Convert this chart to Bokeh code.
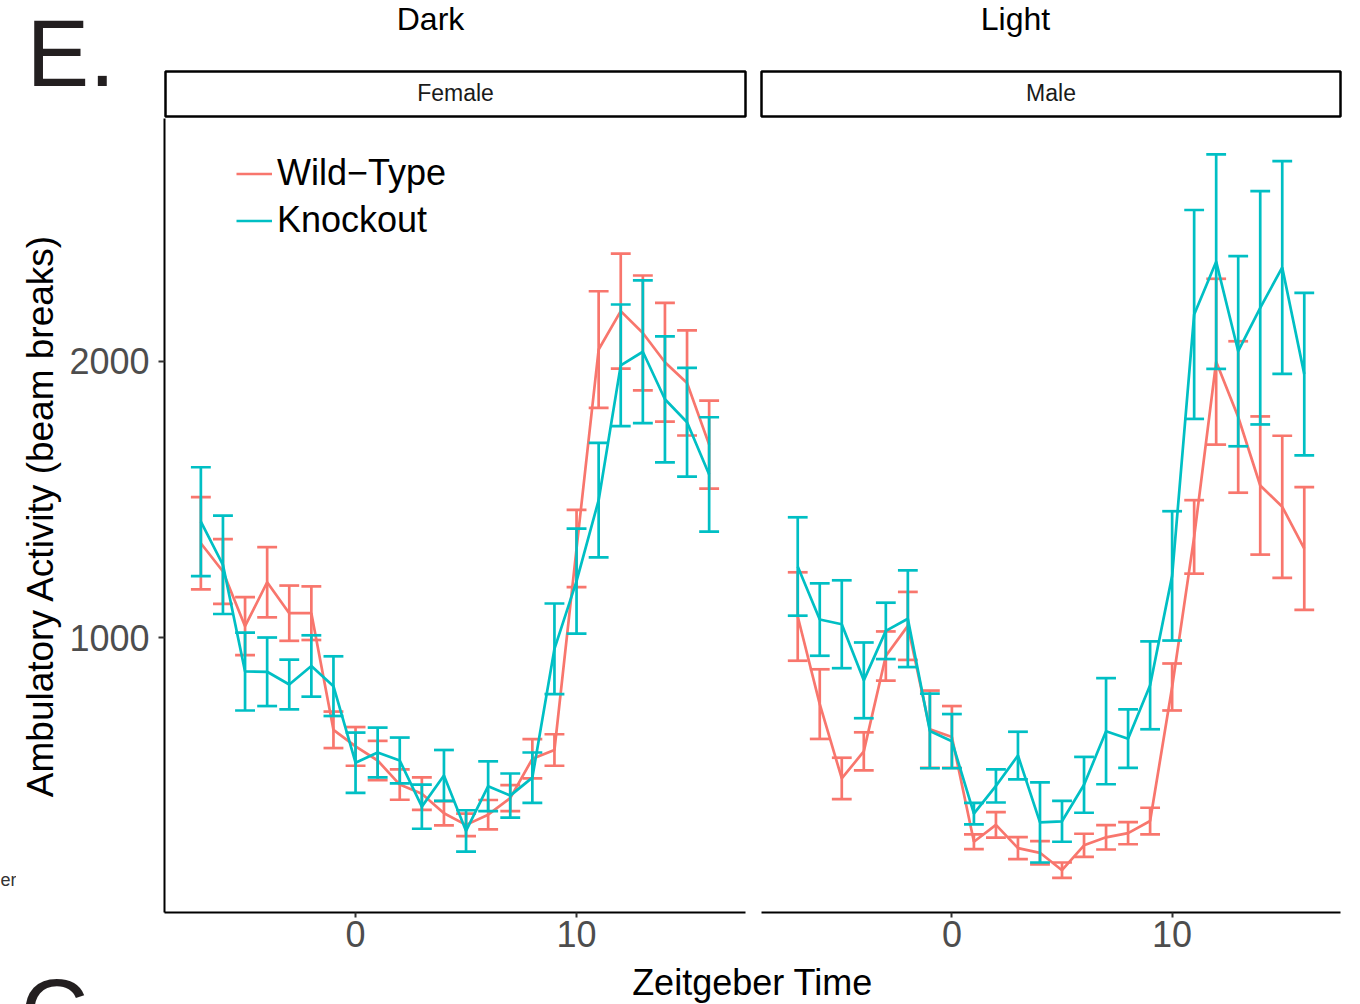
from bokeh.plotting import figure
from bokeh.models import Range1d, FixedTicker, Legend, LegendItem
from bokeh.layouts import column, row
from bokeh.embed import file_html
from bokeh.resources import INLINE
from bokeh.core.properties import value

FONT = "Liberation Sans"
RED = "#F8766D"
TEAL = "#00BFC4"

# ---------------- data ----------------
hours = list(range(-7, 17))

female_wt = [1341, 1239, 1041, 1200, 1088, 1088, 666, 606, 555, 468, 435, 364,
             322, 359, 419, 561, 593, 1322, 2042, 2181, 2102, 1996, 1921, 1698]
female_wt_se = [167, 117, 105, 127, 100, 97, 66, 70, 71, 55, 59, 44,
                41, 53, 47, 71, 57, 140, 211, 208, 208, 215, 190, 159]
female_ko = [1419, 1263, 877, 876, 830, 897, 824, 547, 584, 555, 388, 501,
             300, 462, 428, 493, 959, 1204, 1497, 1985, 2034, 1862, 1779, 1590]
female_ko_se = [197, 178, 141, 124, 90, 111, 108, 109, 90, 83, 80, 92,
                75, 90, 80, 91, 164, 190, 207, 220, 258, 228, 197, 207]

male_wt = [1076, 759, 490, 588, 933, 1042, 668, 640, 261, 322, 238, 221,
           158, 248, 277, 292, 336, 821, 1364, 1998, 1798, 1550, 1473, 1322]
male_wt_se = [160, 126, 75, 69, 89, 123, 140, 112, 27, 46, 40, 42,
              28, 42, 44, 40, 48, 85, 133, 300, 274, 250, 257, 222]
male_ko = [1257, 1065, 1048, 845, 1024, 1068, 662, 625, 363, 463, 573, 331,
           335, 467, 661, 634, 827, 1223, 2169, 2360, 2036, 2193, 2339, 1953]
male_ko_se = [178, 131, 159, 137, 102, 175, 135, 98, 39, 60, 86, 145,
              74, 101, 192, 106, 159, 234, 378, 388, 344, 422, 385, 294]

x_ticks = [0, 10]
y_ticks = [1000, 2000]
panel_labels = ["Female", "Male"]
top_labels = ["Dark", "Light"]
series_labels = ["Wild\u2212Type", "Knockout"]

X_RANGE = (-8.645, 17.645)
Y_RANGE = (5, 2878)
CAP = 0.45
LW = 2.7


def blank(width, height):
    p = figure(width=width, height=height, x_range=Range1d(0, width),
               y_range=Range1d(height, 0), output_backend="svg",
               toolbar_location=None, x_axis_type=None, y_axis_type=None,
               min_border_left=0, min_border_right=0, min_border_top=0,
               min_border_bottom=0)
    p.grid.visible = False
    p.outline_line_color = None
    p.background_fill_color = "white"
    p.border_fill_color = "white"
    return p


def txt(p, x, y, s, size, color="black", align="center"):
    p.text(x=[x], y=[y], text=[s], text_font=value(FONT), text_font_size=size,
           text_align=align, text_baseline="middle", text_color=color)


def header(width, strip_l, strip_r, strip_text, top_text, top_x, big_letter):
    p = blank(width, 118)
    p.quad(left=[strip_l], right=[strip_r], top=[71], bottom=[116],
           fill_color="white", line_color="black", line_width=2.5)
    txt(p, (strip_l + strip_r) / 2, 92, strip_text, "23px", "#1A1A1A")
    txt(p, top_x, 18, top_text, "32px")
    if big_letter:
        txt(p, 26, 53, "E.", "94px", "#231F20", "left")
    return p


def add_series(p, y, se, color):
    lo = [m - s for m, s in zip(y, se)]
    hi = [m + s for m, s in zip(y, se)]
    xl = [h - CAP for h in hours]
    xr = [h + CAP for h in hours]
    r = p.line(hours, y, line_color=color, line_width=LW)
    p.segment(x0=hours, y0=lo, x1=hours, y1=hi, line_color=color, line_width=LW)
    p.segment(x0=xl, y0=hi, x1=xr, y1=hi, line_color=color, line_width=LW)
    p.segment(x0=xl, y0=lo, x1=xr, y1=lo, line_color=color, line_width=LW)
    return r


def panel(width, left_border, right_border, wt, wt_se, ko, ko_se, show_y):
    p = figure(width=width, height=843, x_range=Range1d(*X_RANGE),
               y_range=Range1d(*Y_RANGE), output_backend="svg",
               toolbar_location=None, y_axis_type="linear" if show_y else None,
               min_border_left=left_border, min_border_right=right_border,
               min_border_top=0, min_border_bottom=49)
    p.grid.visible = False
    p.outline_line_color = None
    p.background_fill_color = "white"
    p.border_fill_color = "white"

    ax = p.xaxis[0]
    ax.ticker = FixedTicker(ticks=x_ticks)
    ax.major_label_text_font = FONT
    ax.major_label_text_font_size = "36px"
    ax.major_label_text_color = "#4D4D4D"
    ax.major_label_standoff = 3
    ax.axis_line_width = 2
    ax.axis_line_color = "black"
    ax.major_tick_out = 5
    ax.major_tick_in = 0
    ax.major_tick_line_width = 2
    ax.major_tick_line_color = "#333333"
    ax.minor_tick_line_color = None

    if show_y:
        ay = p.yaxis[0]
        ay.ticker = FixedTicker(ticks=y_ticks)
        ay.major_label_text_font = FONT
        ay.major_label_text_font_size = "36px"
        ay.major_label_text_color = "#4D4D4D"
        ay.major_label_standoff = 9
        ay.axis_line_width = 2
        ay.axis_line_color = "black"
        ay.major_tick_out = 6
        ay.major_tick_in = 0
        ay.major_tick_line_width = 2
        ay.major_tick_line_color = "#333333"
        ay.minor_tick_line_color = None
        ay.axis_label = "Ambulatory Activity (beam breaks)"
        ay.axis_label_text_font = FONT
        ay.axis_label_text_font_size = "37px"
        ay.axis_label_text_font_style = "normal"
        ay.axis_label_text_color = "black"
        ay.axis_label_standoff = 5

    r_wt = add_series(p, wt, wt_se, RED)
    r_ko = add_series(p, ko, ko_se, TEAL)
    return p, r_wt, r_ko


headL = header(753, 165, 745, panel_labels[0], top_labels[0], 430, True)
headR = header(607, 8, 587, panel_labels[1], top_labels[1], 262, False)

# narrow side strip (its frame is aligned with the panels' frames)
side = blank(16, 843)
txt(side, 0, 809, "er", "18px", "#333333", "left")

pL, rw, rk = panel(737, 148, 8, female_wt, female_wt_se, female_ko, female_ko_se, True)
pR, _, _ = panel(607, 8, 20, male_wt, male_wt_se, male_ko, male_ko_se, False)

legend = Legend(items=[LegendItem(label=series_labels[0], renderers=[rw]),
                       LegendItem(label=series_labels[1], renderers=[rk])],
                location=(72, 671), label_text_font=FONT,
                label_text_font_size="36px", label_text_color="black",
                glyph_width=36, glyph_height=41, label_height=41,
                label_standoff=5, spacing=5, padding=0, margin=0,
                border_line_color=None, background_fill_alpha=0)
pL.add_layout(legend)

footer = blank(1360, 43)
txt(footer, 752, 21, "Zeitgeber Time", "36px")
txt(footer, 20, 51, "C", "94px", "#231F20", "left")

layout = column(row(headL, headR), row(side, pL, pR), footer)

open("out.html", "w").write(file_html(layout, INLINE))
